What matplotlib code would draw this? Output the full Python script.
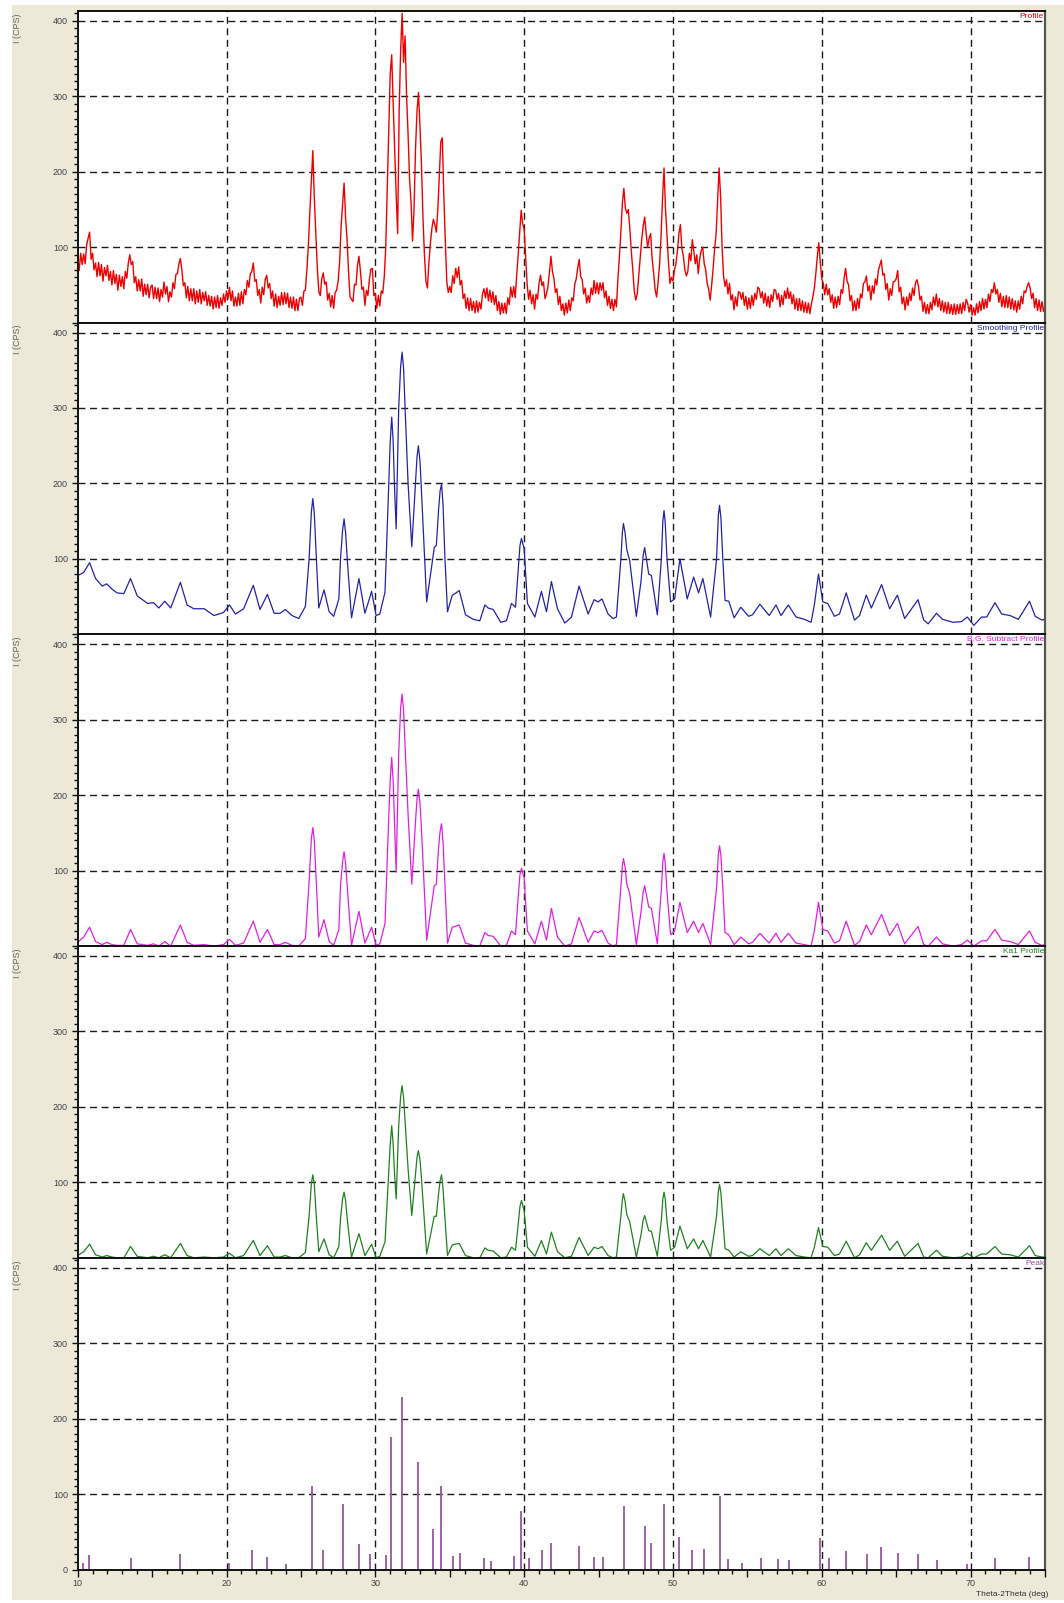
import numpy as np
import matplotlib.pyplot as plt
from matplotlib.patches import Rectangle
from matplotlib.ticker import MultipleLocator, FuncFormatter

plt.rcParams['font.family'] = ['Liberation Sans', 'DejaVu Sans']

# raw profile, one row per degree (step 0.1 deg, 10.0 .. 75.0)
raw_cps = [
    84, 69, 92, 77, 91, 78, 103, 112, 120, 84,
    92, 70, 79, 61, 80, 62, 77, 55, 73, 62,
    76, 56, 68, 50, 69, 52, 64, 43, 63, 48,
    61, 45, 68, 59, 79, 90, 77, 81, 53, 61,
    42, 57, 42, 58, 35, 51, 37, 51, 33, 47,
    50, 32, 47, 32, 46, 28, 44, 34, 54, 38,
    48, 28, 41, 34, 53, 45, 64, 65, 78, 85,
    70, 49, 53, 33, 48, 29, 45, 29, 45, 25,
    42, 27, 44, 25, 40, 29, 41, 23, 36, 22,
    35, 18, 34, 20, 36, 19, 33, 23, 38, 27,
    42, 32, 47, 29, 42, 22, 34, 22, 39, 23,
    41, 25, 44, 37, 56, 47, 65, 68, 79, 55,
    57, 36, 44, 26, 47, 37, 57, 63, 46, 52,
    32, 42, 22, 38, 20, 35, 23, 40, 24, 40,
    25, 39, 20, 34, 19, 34, 16, 31, 16, 32,
    34, 23, 42, 43, 70, 102, 147, 188, 228, 165,
    120, 73, 41, 36, 58, 66, 51, 54, 30, 39,
    21, 36, 19, 40, 43, 55, 80, 128, 157, 185,
    140, 110, 68, 34, 31, 28, 51, 50, 76, 88,
    68, 44, 47, 23, 43, 36, 57, 71, 72, 36,
    39, 19, 36, 22, 42, 39, 61, 100, 175, 250,
    330, 355, 290, 230, 170, 118, 280, 360, 410, 345,
    380, 300, 250, 190, 160, 108, 150, 230, 280, 305,
    260, 210, 140, 90, 55, 46, 80, 105, 125, 137,
    130, 120, 150, 195, 240, 245, 170, 110, 55, 40,
    48, 40, 62, 52, 72, 60, 74, 50, 56, 32,
    38, 19, 33, 16, 32, 16, 28, 13, 29, 14,
    27, 18, 38, 45, 33, 46, 29, 43, 27, 41,
    24, 36, 16, 28, 11, 26, 13, 26, 12, 33,
    24, 47, 34, 48, 33, 63, 90, 120, 149, 132,
    124, 88, 51, 31, 43, 25, 37, 18, 38, 31,
    52, 63, 49, 54, 32, 38, 48, 67, 88, 68,
    59, 40, 45, 24, 35, 16, 25, 10, 26, 13,
    30, 16, 33, 29, 51, 58, 73, 84, 61, 57,
    38, 46, 26, 36, 27, 46, 37, 56, 39, 53,
    38, 53, 43, 53, 33, 42, 23, 35, 19, 31,
    16, 31, 21, 58, 87, 120, 158, 178, 152, 145,
    150, 125, 95, 70, 42, 30, 38, 62, 85, 110,
    128, 140, 118, 100, 112, 118, 85, 66, 44, 34,
    53, 77, 115, 165, 205, 150, 115, 80, 52, 60,
    55, 70, 78, 95, 118, 130, 98, 88, 70, 62,
    68, 92, 82, 110, 95, 78, 90, 65, 85, 96,
    100, 78, 70, 52, 44, 30, 50, 72, 98, 118,
    160, 205, 168, 100, 62, 48, 57, 38, 52, 30,
    37, 17, 34, 22, 41, 40, 31, 40, 23, 35,
    18, 33, 19, 36, 23, 39, 31, 47, 45, 33,
    41, 26, 39, 22, 35, 20, 37, 28, 44, 43,
    31, 39, 21, 36, 24, 42, 32, 46, 32, 41,
    25, 37, 18, 32, 16, 32, 16, 29, 14, 27,
    13, 26, 12, 25, 34, 46, 65, 88, 106, 80,
    58, 52, 37, 51, 37, 45, 27, 37, 19, 34,
    20, 35, 24, 44, 39, 59, 72, 55, 50, 29,
    36, 16, 29, 16, 32, 19, 38, 33, 52, 54,
    62, 42, 49, 30, 49, 39, 58, 50, 69, 76,
    83, 63, 65, 44, 52, 30, 45, 36, 54, 55,
    58, 69, 41, 47, 25, 34, 17, 34, 23, 39,
    29, 46, 36, 53, 57, 48, 30, 35, 15, 27,
    12, 24, 12, 27, 17, 34, 23, 38, 21, 32,
    16, 29, 14, 27, 12, 27, 12, 24, 11, 25,
    11, 24, 12, 25, 12, 27, 16, 31, 26, 14,
    24, 10, 20, 10, 25, 13, 28, 16, 32, 18,
    31, 20, 38, 28, 44, 40, 53, 38, 44, 27,
    39, 21, 35, 20, 36, 20, 34, 18, 32, 17,
    29, 14, 29, 18, 35, 25, 42, 40, 48, 53,
    46, 32, 39, 20, 32, 16, 30, 15, 28, 15,
    22,
]
raw_x = np.linspace(10, 75, len(raw_cps))

# processed profiles, sampled at peak tops, flanks and valleys
prof_x = [
    10.0, 10.4, 10.8, 11.2, 11.65, 11.95, 12.3, 12.65, 13.1, 13.55,
    14.0, 14.7, 15.1, 15.45, 15.85, 16.25, 16.9, 17.35, 17.8, 18.5,
    19.15, 19.8, 20.2, 20.6, 21.15, 21.8, 22.25, 22.75, 23.2, 23.6,
    23.95, 24.4, 24.85, 25.3, 25.55, 25.7, 25.8, 25.9, 26.05, 26.2,
    26.55, 26.9, 27.2, 27.55, 27.66, 27.8, 27.9, 28.0, 28.13, 28.4,
    28.9, 29.3, 29.75, 30.05, 30.3, 30.65, 30.9, 31.0, 31.1, 31.2,
    31.28, 31.4, 31.57, 31.7, 31.8, 31.9, 32.0, 32.2, 32.45, 32.7,
    32.8, 32.89, 33.0, 33.1, 33.45, 33.96, 34.1, 34.25, 34.35, 34.45,
    34.55, 34.68, 34.85, 35.17, 35.35, 35.64, 36.06, 36.58, 37.02, 37.36,
    37.58, 37.92, 38.43, 38.81, 39.15, 39.42, 39.6, 39.72, 39.82, 40.0,
    40.22, 40.72, 41.16, 41.5, 41.83, 42.24, 42.73, 43.18, 43.69, 44.3,
    44.7, 44.97, 45.23, 45.64, 45.97, 46.2, 46.5, 46.6, 46.67, 46.78,
    46.9, 47.09, 47.54, 47.85, 48.0, 48.1, 48.37, 48.55, 48.95, 49.22,
    49.32, 49.4, 49.48, 49.6, 49.84, 50.11, 50.47, 50.96, 51.39, 51.72,
    52.01, 52.53, 52.93, 53.05, 53.13, 53.22, 53.35, 53.5, 53.75, 54.11,
    54.56, 55.08, 55.35, 55.84, 56.47, 56.92, 57.26, 57.75, 58.27, 58.83,
    59.28, 59.5, 59.78, 60.07, 60.4, 60.85, 61.19, 61.64, 62.2, 62.54,
    62.99, 63.33, 64.02, 64.56, 65.08, 65.57, 66.47, 66.85, 67.15, 67.71,
    68.11, 68.83, 69.39, 69.78, 70.22, 70.74, 71.08, 71.64, 72.09, 72.65,
    73.21, 73.96, 74.34, 74.79, 75.0,
]
smooth_cps = [
    78, 82, 95, 74, 64, 67, 60, 55, 54, 74,
    51, 41, 42, 35, 44, 35, 69, 39, 34, 34,
    25, 29, 39, 27, 34, 65, 33, 53, 28, 28,
    33, 25, 21, 37, 100, 162, 180, 160, 95, 35,
    59, 30, 24, 47, 100, 138, 153, 135, 95, 22,
    74, 28, 57, 25, 27, 56, 200, 255, 288, 255,
    200, 140, 300, 355, 374, 352, 300, 200, 116, 200,
    235, 250, 230, 190, 43, 115, 118, 165, 190, 199,
    172, 100, 30, 52, 54, 58, 26, 20, 18, 39,
    35, 33, 16, 18, 41, 36, 85, 118, 127, 114,
    41, 23, 57, 30, 70, 34, 15, 23, 64, 27,
    46, 43, 47, 27, 21, 23, 100, 135, 147, 135,
    112, 98, 24, 70, 105, 115, 80, 78, 26, 100,
    150, 164, 148, 100, 43, 47, 100, 47, 76, 55,
    74, 23, 100, 158, 171, 155, 100, 45, 44, 22,
    36, 24, 26, 40, 25, 39, 25, 39, 23, 20,
    16, 39, 80, 43, 41, 24, 27, 55, 19, 25,
    52, 35, 66, 34, 52, 21, 46, 19, 14, 28,
    20, 16, 17, 23, 12, 23, 23, 42, 27, 25,
    20, 44, 24, 19, 20,
]
bgsub_cps = [
    5, 12, 25, 6, 2, 5, 2, 1, 1, 22,
    3, 1, 3, 0, 6, 0, 28, 5, 1, 2,
    0, 2, 9, 1, 4, 33, 5, 22, 2, 2,
    5, 1, 0, 10, 85, 142, 157, 140, 78, 12,
    35, 6, 1, 22, 80, 112, 125, 110, 75, 1,
    46, 4, 25, 1, 3, 30, 170, 220, 250, 218,
    170, 98, 255, 316, 334, 312, 265, 175, 82, 165,
    195, 208, 190, 155, 8, 80, 82, 130, 152, 162,
    138, 80, 4, 25, 26, 28, 4, 1, 0, 18,
    14, 13, 0, 1, 20, 15, 65, 95, 103, 90,
    20, 3, 33, 8, 50, 12, 0, 3, 38, 5,
    20, 18, 21, 4, 0, 2, 78, 106, 116, 105,
    82, 70, 2, 45, 72, 80, 52, 50, 3, 75,
    112, 123, 110, 72, 15, 20, 58, 18, 33, 18,
    30, 2, 77, 122, 133, 120, 77, 18, 15, 2,
    12, 3, 5, 17, 4, 17, 5, 17, 4, 2,
    0, 20, 58, 22, 20, 4, 7, 33, 1, 6,
    28, 15, 42, 14, 30, 3, 26, 2, 0, 12,
    3, 0, 2, 8, 0, 7, 7, 22, 8, 6,
    2, 20, 5, 1, 2,
]
ka1_cps = [
    3, 8, 18, 4, 1, 3, 1, 0, 0, 15,
    2, 0, 2, 0, 4, 0, 19, 3, 0, 1,
    0, 1, 6, 0, 3, 23, 3, 16, 1, 1,
    3, 0, 0, 7, 55, 98, 110, 97, 50, 8,
    25, 4, 0, 15, 52, 78, 87, 76, 48, 1,
    32, 3, 18, 0, 2, 21, 115, 150, 175, 150,
    115, 78, 175, 214, 228, 212, 180, 118, 56, 112,
    133, 142, 130, 105, 5, 55, 55, 85, 102, 110,
    92, 52, 3, 17, 18, 19, 3, 0, 0, 13,
    10, 9, 0, 1, 14, 10, 45, 68, 76, 62,
    14, 2, 23, 5, 34, 8, 0, 2, 27, 3,
    14, 12, 15, 3, 0, 1, 55, 77, 85, 75,
    57, 48, 1, 30, 50, 56, 36, 35, 2, 50,
    78, 87, 78, 48, 10, 14, 42, 12, 25, 12,
    23, 1, 55, 88, 97, 86, 52, 12, 10, 1,
    8, 2, 3, 12, 3, 12, 3, 12, 3, 1,
    0, 14, 40, 15, 14, 3, 5, 22, 0, 4,
    20, 10, 30, 10, 22, 2, 19, 1, 0, 10,
    2, 0, 1, 6, 0, 5, 5, 15, 5, 4,
    1, 16, 3, 1, 1,
]

# peak list
peak_pos = [
    10.36, 10.74, 13.56, 16.88, 20.15, 21.74, 22.73, 24.0, 25.74, 26.47,
    27.82, 28.87, 29.64, 30.71, 31.07, 31.8, 32.85, 33.9, 34.4, 35.2,
    35.7, 37.3, 37.8, 39.3, 39.8, 40.3, 41.2, 41.8, 43.7, 44.7,
    45.3, 46.7, 48.1, 48.5, 49.4, 50.4, 51.3, 52.07, 53.13, 53.73,
    54.65, 55.9, 57.03, 57.79, 59.85, 60.48, 61.65, 63.03, 63.98, 65.1,
    66.44, 67.72, 69.78, 71.62, 73.93,
]
peak_int = [
    9, 19, 15, 20, 9, 26, 17, 7, 110, 26,
    87, 34, 20, 19, 175, 229, 143, 54, 110, 18,
    22, 15, 11, 18, 77, 15, 26, 35, 31, 16,
    16, 84, 57, 35, 87, 43, 26, 27, 97, 14,
    9, 15, 14, 12, 42, 15, 24, 20, 30, 22,
    20, 12, 7, 15, 17,
]

panel_titles = ['Profile', 'Smoothing Profile', 'B.G. Subtract Profile',
                'Ka1 Profile', 'Peak']
panel_colors = ['#EE0000', '#2323A8', '#E020E0', '#1F821F', '#94579F']

W, H = 1064, 1603
fig = plt.figure(figsize=(W / 100, H / 100), dpi=100)
fig.patch.set_facecolor('white')
fig.patches.append(Rectangle((12 / W, 3 / H), 1, 1595 / H, transform=fig.transFigure,
                             facecolor='#ECE9D8', edgecolor='none', zorder=-10))

left = 77.7 / W
width = (1045 - 77.7) / W
panel_h = 311.7
axes = []
for i in range(5):
    top = 11 + i * panel_h
    ax = fig.add_axes([left, 1 - (top + panel_h) / H, width, panel_h / H])
    axes.append(ax)
    last = i == 4

    ax.set_xlim(10, 75)
    ax.set_ylim(0, 413)
    ax.set_facecolor('white')

    for y in [100, 200, 300, 400]:
        ax.axhline(y, color='#1a1a1a', lw=1, dashes=(5, 3.3), zorder=0.5)
    for x in [20, 30, 40, 50, 60, 70]:
        ax.axvline(x, color='#1a1a1a', lw=1, dashes=(5, 3.3), zorder=0.5)

    for side in ['left', 'bottom', 'top']:
        ax.spines[side].set_color('#111111')
        ax.spines[side].set_linewidth(1.4)
    ax.spines['right'].set_color('#555555')
    ax.spines['right'].set_linewidth(1.6)

    ax.yaxis.set_major_locator(MultipleLocator(100))
    ax.yaxis.set_minor_locator(MultipleLocator(10))
    ax.yaxis.set_major_formatter(FuncFormatter(
        lambda v, p, last=last: '' if (v == 0 and not last) else '%d' % v))
    ax.tick_params(axis='y', which='major', direction='out', length=4.5, width=1,
                   pad=2.5, labelsize=6.5, labelcolor='#444444', color='#111111')
    ax.tick_params(axis='y', which='minor', direction='out', length=2.8, width=1,
                   color='#111111')

    if last:
        ax.xaxis.set_major_locator(MultipleLocator(5))
        ax.xaxis.set_minor_locator(MultipleLocator(1))
        ax.xaxis.set_major_formatter(FuncFormatter(
            lambda v, p: '%d' % v if v % 10 == 0 else ''))
        ax.tick_params(axis='x', which='major', direction='out', length=5, width=1,
                       pad=1.5, labelsize=6.5, labelcolor='#444444', color='#111111')
        ax.tick_params(axis='x', which='minor', direction='out', length=2.8, width=1,
                       color='#111111')
    else:
        ax.tick_params(axis='x', which='both', bottom=False, labelbottom=False)

    fig.text(1044 / W, 1 - (top + 2) / H, panel_titles[i], ha='right', va='top',
             fontsize=6, color=panel_colors[i])
    fig.text(18 / W, 1 - (top + 17) / H, 'I (CPS)', rotation=90, ha='center',
             va='center', fontsize=6.5, color='#666666')

axes[0].plot(raw_x, raw_cps, color=panel_colors[0], lw=1.0)
axes[1].plot(prof_x, smooth_cps, color=panel_colors[1], lw=0.9)
axes[2].plot(prof_x, bgsub_cps, color=panel_colors[2], lw=0.9)
axes[3].plot(prof_x, ka1_cps, color=panel_colors[3], lw=0.9)
axes[4].vlines(peak_pos, 0, peak_int, color=panel_colors[4], lw=1.3)

fig.text(1048 / W, 1 - 1595 / H, 'Theta-2Theta (deg)', ha='right', va='center',
         fontsize=6, color='#333333')

fig.savefig('out.png', dpi=100)
